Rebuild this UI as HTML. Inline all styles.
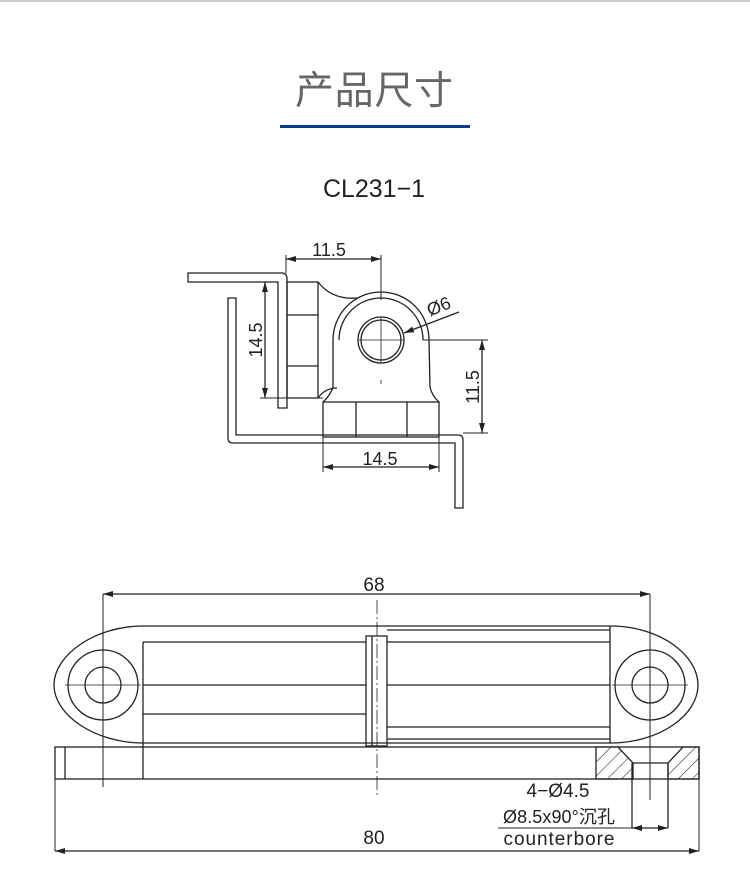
<!DOCTYPE html>
<html><head><meta charset="utf-8"><style>
html,body{margin:0;padding:0;background:#fff;}
svg{display:block;}
text{font-family:"Liberation Sans","Noto Sans CJK SC",sans-serif;fill:#222;}
</style></head><body>
<svg width="750" height="887" viewBox="0 0 750 887" xmlns="http://www.w3.org/2000/svg">
<defs>
<marker id="a" viewBox="0 0 10 6" refX="10" refY="3" markerWidth="10" markerHeight="6" orient="auto-start-reverse" markerUnits="userSpaceOnUse"><path d="M0,0 L10,3 L0,6 Z" fill="#222"/></marker>
<pattern id="h" width="10" height="10" patternUnits="userSpaceOnUse" patternTransform="rotate(45)"><line x1="0" y1="0" x2="0" y2="10" stroke="#222" stroke-width="1.1"/></pattern>
</defs>
<line x1="0" y1="1" x2="750" y2="1" stroke="#ccc" stroke-width="2"/>
<text x="374" y="104" font-size="39" text-anchor="middle" style="fill:#666" textLength="158" font-family="Noto Sans CJK SC">产品尺寸</text>
<rect x="280" y="125" width="190" height="3" fill="#0b3d8c"/>
<text x="374" y="197" font-size="25" text-anchor="middle" textLength="102" style="fill:#222">CL231−1</text>

<g fill="none" stroke="#222" stroke-width="1.3">
<path d="M188,273 L282,273 Q287,273 287,279 L287,408 L278,408 L278,282 L188,282 Z"/>
<rect x="287" y="282" width="31" height="116"/>
<line x1="287" y1="315" x2="318" y2="315"/><line x1="287" y1="366" x2="318" y2="366"/>
<path d="M318,282 Q332,300 357,298"/>
<path d="M318,398 Q325,388 337,388"/>
<path d="M333,340 A48,48 0 0 1 429,340 L430,387 Q432,396 439,402"/>
<path d="M333,340 L333,387 Q330,396 323,402"/>
<path d="M339,340 A42,42 0 0 1 423,340"/>
<circle cx="381" cy="340" r="23"/><circle cx="381" cy="340" r="20"/>
<line x1="358" y1="340" x2="404" y2="340" stroke-width="0.8"/><line x1="381" y1="317" x2="381" y2="363" stroke-width="0.8"/>
<line x1="381" y1="380" x2="381" y2="384" stroke-width="0.8"/>
<rect x="323" y="402" width="116" height="35"/>
<line x1="356" y1="402" x2="356" y2="437"/><line x1="407" y1="402" x2="407" y2="437"/>
<path d="M228,298 L228,438 Q228,443 233,443 L455,443 L455,508 L463,508 L463,440 Q463,435 458,435 L236,435 L236,298 Z"/>
<line x1="286" y1="259" x2="381" y2="259" marker-start="url(#a)" marker-end="url(#a)"/>
<line x1="286" y1="255" x2="286" y2="273" stroke-width="1"/>
<line x1="381" y1="255" x2="381" y2="300" stroke-width="1"/>
<line x1="265" y1="282" x2="265" y2="398" marker-start="url(#a)" marker-end="url(#a)"/>
<line x1="260" y1="398" x2="323" y2="398" stroke-width="1"/>
<line x1="482" y1="340" x2="482" y2="433" marker-start="url(#a)" marker-end="url(#a)"/>
<line x1="423" y1="340" x2="488" y2="340" stroke-width="1"/>
<line x1="463" y1="433" x2="488" y2="433" stroke-width="1"/>
<line x1="323" y1="467" x2="439" y2="467" marker-start="url(#a)" marker-end="url(#a)"/>
<line x1="323" y1="437" x2="323" y2="472" stroke-width="1"/>
<line x1="439" y1="437" x2="439" y2="472" stroke-width="1"/>
<line x1="459" y1="312" x2="404" y2="333" marker-end="url(#a)"/>
</g>
<text x="329" y="256" font-size="18" text-anchor="middle">11.5</text>
<text x="380" y="465" font-size="18" text-anchor="middle">14.5</text>
<text transform="translate(262,340) rotate(-90)" font-size="18" text-anchor="middle">14.5</text>
<text transform="translate(479,387) rotate(-90)" font-size="18" text-anchor="middle">11.5</text>
<text transform="translate(441,312) rotate(-22)" font-size="18" text-anchor="middle">Ø6</text>

<g fill="none" stroke="#222" stroke-width="1.3">
<line x1="103" y1="594" x2="650" y2="594" marker-start="url(#a)" marker-end="url(#a)"/>
<line x1="103" y1="594" x2="103" y2="787" stroke-width="1"/>
<line x1="650" y1="594" x2="650" y2="800" stroke-width="1"/>
<path d="M143,626 L610,626 C660,626 698,655 698,685 C698,715 660,743 610,743 L143,743 C95,743 54,715 54,685 C54,655 95,626 143,626 Z"/>
<circle cx="103" cy="685" r="35"/><circle cx="103" cy="685" r="18"/>
<circle cx="650" cy="685" r="35"/><circle cx="650" cy="685" r="18"/>
<line x1="65" y1="685" x2="141" y2="685" stroke-width="0.8"/><line x1="612" y1="685" x2="688" y2="685" stroke-width="0.8"/>
<line x1="650" y1="647" x2="650" y2="723" stroke-width="0.8"/>
<path d="M143,642 L366,642 M143,714 L366,714 M143,685 L366,685 M143,642 L143,779"/>
<rect x="366" y="636" width="21" height="110"/>
<line x1="372" y1="636" x2="372" y2="746"/>
<line x1="377" y1="600" x2="377" y2="797" stroke-width="0.8" stroke-dasharray="14,3,2,3"/>
<path d="M387,630 L610,630 M387,642 L610,642 M387,685 L610,685 M387,727 L610,727 M387,739 L610,739 M610,626 L610,743"/>
<rect x="55" y="747" width="644" height="32"/>
<line x1="65" y1="747" x2="65" y2="779"/>
<path d="M596,747 L618,747 L633,763 L633,779 L596,779 Z" fill="url(#h)"/>
<path d="M683,747 L699,747 L699,779 L668,779 L668,763 Z" fill="url(#h)"/>
<path d="M632,763 L632,828 M668,763 L668,828 M633,763 L668,763"/>
<line x1="498" y1="828" x2="632" y2="828" stroke-width="1"/>
<line x1="632" y1="828" x2="650" y2="828" marker-start="url(#a)"/>
<line x1="650" y1="828" x2="668" y2="828" marker-end="url(#a)"/>
<line x1="55" y1="851" x2="699" y2="851" marker-start="url(#a)" marker-end="url(#a)"/>
<line x1="55" y1="779" x2="55" y2="851" stroke-width="1"/>
<line x1="699" y1="779" x2="699" y2="851" stroke-width="1"/>
</g>
<text x="374" y="591" font-size="19" text-anchor="middle">68</text>
<text x="374" y="844" font-size="19" text-anchor="middle">80</text>
<text x="558" y="797" font-size="19" text-anchor="middle" textLength="63">4−Ø4.5</text>
<text x="559" y="823" font-size="18" text-anchor="middle" textLength="112">Ø8.5x90°沉孔</text>
<text x="559" y="845" font-size="19" text-anchor="middle" textLength="111">counterbore</text>
</svg>
</body></html>
